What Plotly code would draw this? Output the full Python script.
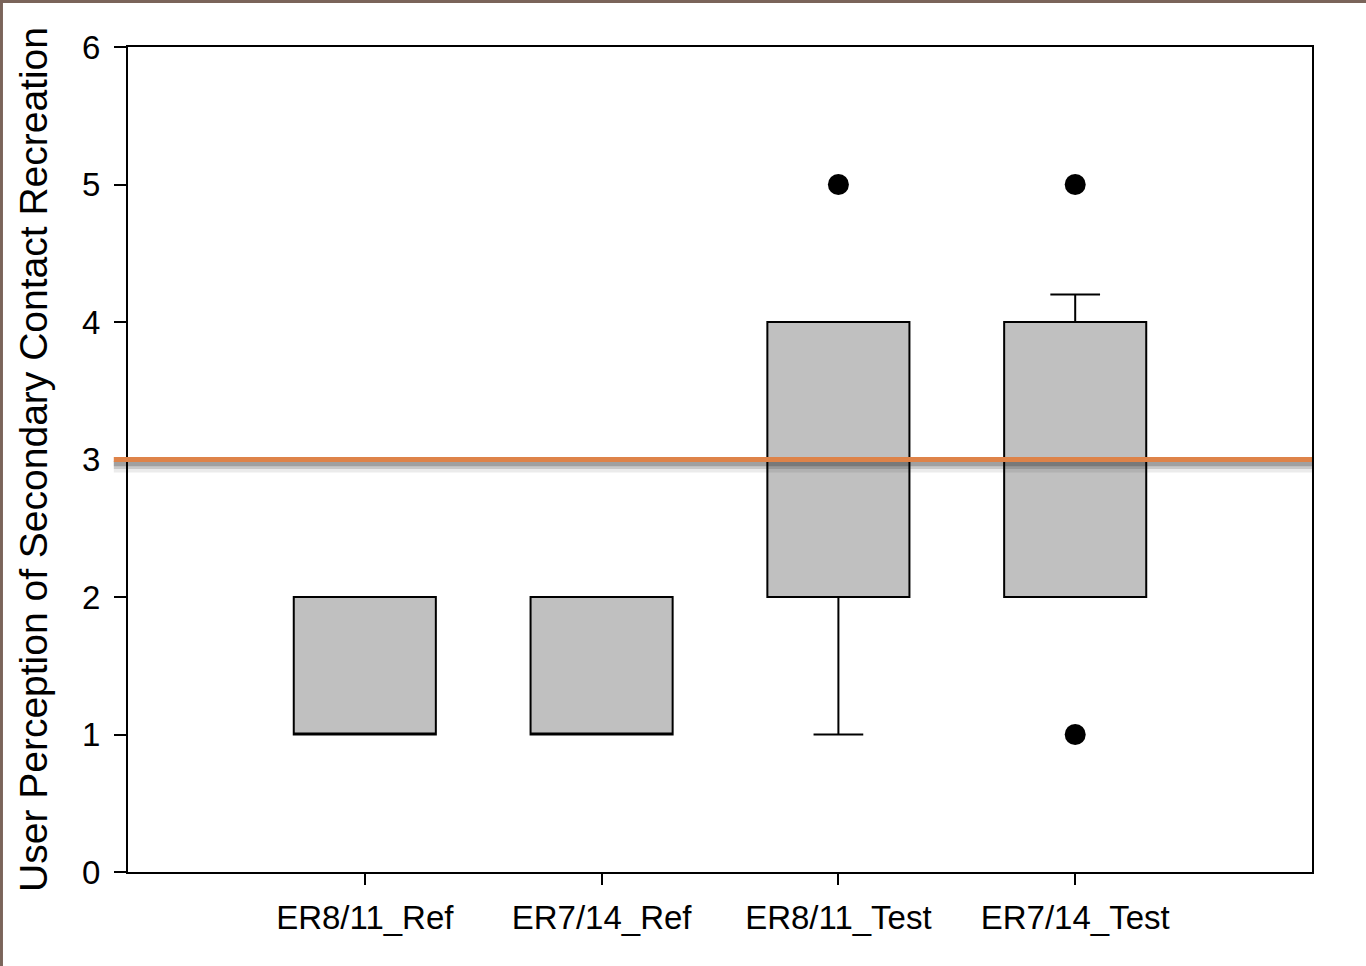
import plotly.graph_objects as go

# box statistics
sites = ["ER8/11_Ref", "ER7/14_Ref", "ER8/11_Test", "ER7/14_Test"]
q1 = [1, 1, 2, 2]
median = [1, 1, 3, 3]
q3 = [2, 2, 4, 4]
lower = [1, 1, 1, 2]
upper = [2, 2, 4, 4.2]

# outlier points
out_x = ["ER8/11_Test", "ER7/14_Test", "ER7/14_Test"]
out_y = [5, 5, 1]

threshold = 3

FONT = "Liberation Sans, Arial, sans-serif"

fig = go.Figure()

fig.add_trace(go.Box(
    x=sites,
    q1=q1,
    median=median,
    q3=q3,
    lowerfence=lower,
    upperfence=upper,
    width=0.6,
    whiskerwidth=0.35,
    fillcolor="#c0c0c0",
    line=dict(color="black", width=2),
    boxpoints=False,
    hoverinfo="skip",
))

fig.add_trace(go.Scatter(
    x=out_x,
    y=out_y,
    mode="markers",
    marker=dict(color="black", size=21),
    hoverinfo="skip",
))

# soft shadow under the orange threshold line
for off, w, a in [(0.05, 12, 0.08), (0.04, 8, 0.14), (0.03, 5, 0.20)]:
    fig.add_shape(type="line", xref="paper", yref="y",
                  x0=-0.012, x1=1.0, y0=threshold - off, y1=threshold - off,
                  line=dict(color=f"rgba(0,0,0,{a})", width=w), layer="above")

fig.add_shape(type="line", xref="paper", yref="y",
              x0=-0.012, x1=1.0, y0=threshold, y1=threshold,
              line=dict(color="#de8349", width=5), layer="above")

# brown frame on top and left edge of the picture
fig.add_shape(type="rect", xref="paper", yref="paper",
              x0=-0.1081, x1=1.046, y0=1.0534, y1=1.06,
              line=dict(width=0), fillcolor="#7a645a", layer="above")
fig.add_shape(type="rect", xref="paper", yref="paper",
              x0=-0.1081, x1=-0.1056, y0=-0.12, y1=1.06,
              line=dict(width=0), fillcolor="#7a645a", layer="above")

fig.update_xaxes(
    type="category",
    range=[-1, 4],
    showline=True, linecolor="black", linewidth=2, mirror=True,
    ticks="outside", ticklen=11, tickwidth=2, tickcolor="black",
    ticklabelstandoff=4,
    tickfont=dict(family=FONT, size=33, color="black"),
    showgrid=False, zeroline=False,
)
fig.update_yaxes(
    range=[0, 6],
    tickvals=[0, 1, 2, 3, 4, 5, 6],
    showline=True, linecolor="black", linewidth=2, mirror=True,
    ticks="outside", ticklen=12, tickwidth=2, tickcolor="black",
    ticklabelstandoff=7,
    tickfont=dict(family=FONT, size=33, color="black"),
    title=dict(text="User Perception of Secondary Contact Recreation",
               font=dict(family=FONT, size=39, color="black"), standoff=22),
    showgrid=False, zeroline=False,
)

fig.update_layout(
    width=1366, height=966,
    margin=dict(l=128, r=54, t=47, b=94),
    plot_bgcolor="white",
    paper_bgcolor="white",
    showlegend=False,
)

fig.write_html("out.html", config={"displayModeBar": False},
               post_script="document.body.style.margin='0';")
